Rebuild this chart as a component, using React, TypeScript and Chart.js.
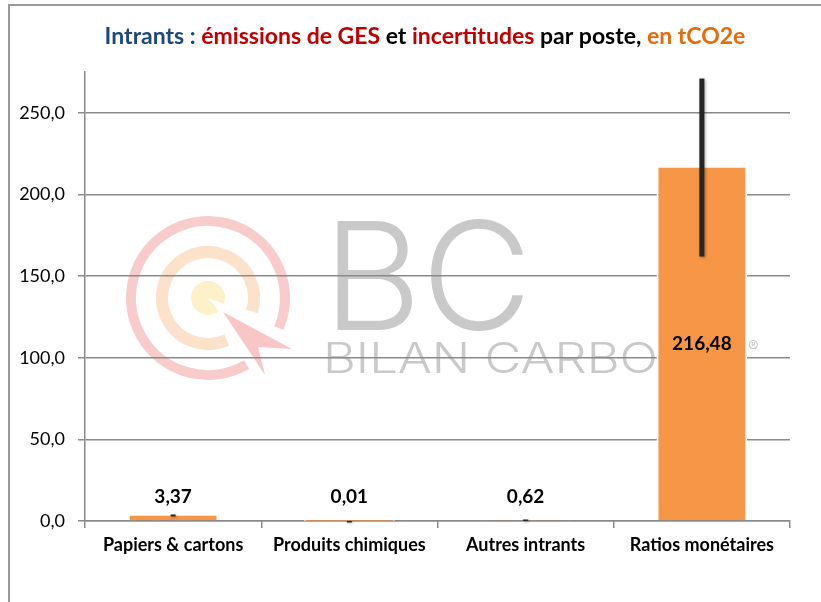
import React, { useEffect, useRef } from 'react';
import { Chart, registerables } from 'chart.js';

Chart.register(...registerables);

const categories = ['Papiers & cartons', 'Produits chimiques', 'Autres intrants', 'Ratios monétaires'];
const emissions = [3.37, 0.01, 0.62, 216.48];
const uncertainties = [0.6, 0.005, 0.3, 54.5];
const yTicks = [0, 50, 100, 150, 200, 250];
const yMax = 275;
const titleParts = [
  { text: 'Intrants : ', color: '#1F497D' },
  { text: 'émissions de GES', color: '#C00000' },
  { text: ' et ', color: '#000000' },
  { text: 'incertitudes', color: '#C00000' },
  { text: ' par poste, ', color: '#000000' },
  { text: 'en tCO2e', color: '#E46C0A' },
];

const FONT = 'Lato';
const fmt = (v: number, d: number) => v.toFixed(d).replace('.', ',');

const backgroundPlugin = {
  id: 'bg',
  beforeDraw(chart: any) {
    const ctx = chart.ctx as CanvasRenderingContext2D;
    ctx.save();
    ctx.fillStyle = '#ffffff';
    ctx.fillRect(0, 0, chart.width, chart.height);

    // frame
    ctx.strokeStyle = '#9a9a9a';
    ctx.lineWidth = 2;
    ctx.beginPath();
    ctx.moveTo(9, chart.height);
    ctx.lineTo(9, 5);
    ctx.lineTo(chart.width, 5);
    ctx.stroke();

    // watermark logo
    const cx = 208, cy = 298;
    const rad = (d: number) => (d * Math.PI) / 180;
    ctx.lineCap = 'butt';
    ctx.strokeStyle = '#f9cccc';
    ctx.lineWidth = 10;
    ctx.beginPath();
    ctx.arc(cx, cy, 77, rad(60), rad(23));
    ctx.stroke();
    ctx.strokeStyle = '#fce2cb';
    ctx.lineWidth = 12;
    ctx.beginPath();
    ctx.arc(cx, cy, 46, rad(66), rad(17));
    ctx.stroke();
    ctx.fillStyle = '#fdf1c9';
    ctx.beginPath();
    ctx.moveTo(cx, cy);
    ctx.arc(cx, cy, 17, rad(50), rad(20));
    ctx.closePath();
    ctx.fill();
    ctx.fillStyle = '#f8c6c6';
    ctx.beginPath();
    ctx.moveTo(223, 312);
    ctx.lineTo(292, 349);
    ctx.lineTo(258, 347);
    ctx.lineTo(265, 375);
    ctx.closePath();
    ctx.fill();

    ctx.fillStyle = '#c9c9c9';
    ctx.textBaseline = 'alphabetic';
    ctx.textAlign = 'left';
    ctx.font = '300 150px Inter';
    const bcW = ctx.measureText('BC').width;
    ctx.save();
    ctx.translate(323, 330);
    ctx.scale(209 / bcW, 1);
    ctx.fillText('BC', 0, 0);
    ctx.restore();

    ctx.font = '300 42px Inter';
    const w11 = ctx.measureText('BILAN CARBO').width;
    ctx.save();
    ctx.translate(323, 373);
    ctx.scale(335 / w11, 1);
    ctx.fillText('BILAN CARBONE', 0, 0);
    ctx.restore();
    ctx.font = '16px Inter';
    ctx.fillText('®', 748, 352);

    // title
    ctx.font = `bold 23px ${FONT}`;
    ctx.textBaseline = 'middle';
    const total = titleParts.reduce((s, p) => s + ctx.measureText(p.text).width, 0);
    let x = 425 - total / 2;
    for (const p of titleParts) {
      ctx.fillStyle = p.color;
      ctx.fillText(p.text, x, 37);
      x += ctx.measureText(p.text).width;
    }
    ctx.restore();
  },
};

const overlayPlugin = {
  id: 'overlay',
  afterDatasetsDraw(chart: any) {
    const ctx = chart.ctx as CanvasRenderingContext2D;
    const meta = chart.getDatasetMeta(0);
    const yScale = chart.scales.y;
    ctx.save();
    // error bars
    meta.data.forEach((bar: any, i: number) => {
      const v = emissions[i];
      const e = uncertainties[i];
      const y1 = yScale.getPixelForValue(v - e);
      const y2 = yScale.getPixelForValue(v + e);
      ctx.save();
      ctx.shadowColor = 'rgba(0,0,0,0.35)';
      ctx.shadowBlur = 3;
      ctx.shadowOffsetX = 1;
      ctx.shadowOffsetY = 1;
      ctx.fillStyle = '#262626';
      const h = Math.max(Math.abs(y1 - y2), 1.5);
      ctx.fillRect(bar.x - 2.5, Math.min(y1, y2), 5, h);
      ctx.restore();
    });
    // data labels
    ctx.font = `bold 19px ${FONT}`;
    ctx.fillStyle = '#000000';
    ctx.textAlign = 'center';
    ctx.textBaseline = 'middle';
    meta.data.forEach((bar: any, i: number) => {
      const base = yScale.getPixelForValue(0);
      const top = bar.y;
      const center = (base + top) / 2;
      const y = base - top > 50 ? center : base - 24;
      ctx.fillText(fmt(emissions[i], 2), bar.x, y);
    });
    ctx.restore();
  },
};

export default function App() {
  const ref = useRef<HTMLCanvasElement | null>(null);
  useEffect(() => {
    if (!ref.current) return;
    const chart = new Chart(ref.current, {
      type: 'bar',
      data: {
        labels: categories,
        datasets: [
          {
            data: emissions,
            backgroundColor: '#F79646',
            borderColor: '#ffffff',
            borderWidth: { top: 0, left: 2, right: 2, bottom: 0 },
            categoryPercentage: 1,
            barPercentage: 0.515,
          },
        ],
      },
      options: {
        animation: false,
        responsive: false,
        devicePixelRatio: 1,
        layout: { padding: { top: 72, left: 10, right: 31, bottom: 0 } },
        plugins: { legend: { display: false }, tooltip: { enabled: false }, title: { display: false } },
        scales: {
          x: {
            afterFit: (s: any) => {
              s.height = 81;
            },
            grid: {
              display: true,
              drawOnChartArea: false,
              drawTicks: true,
              tickLength: 7,
              color: '#8a8a8a',
              lineWidth: 1.5,
              offset: true,
            },
            border: { display: true, color: '#8a8a8a', width: 1.5 },
            ticks: { font: { family: FONT, size: 18, weight: 'bold' }, color: '#000000', padding: 6 },
          },
          y: {
            min: 0,
            max: yMax,
            afterBuildTicks: (s: any) => {
              s.ticks = yTicks.map((v) => ({ value: v }));
            },
            afterFit: (s: any) => {
              s.width = 75;
            },
            ticks: {
              callback: (v: any) => fmt(Number(v), 1),
              font: { family: FONT, size: 18 },
              color: '#000000',
              padding: 13,
            },
            grid: { color: '#8a8a8a', lineWidth: 1.5, tickLength: 7, drawTicks: true },
            border: { display: true, color: '#8a8a8a', width: 1.5 },
          },
        },
      },
      plugins: [backgroundPlugin, overlayPlugin],
    });
    return () => chart.destroy();
  }, []);
  return (
    <div style={{ position: 'fixed', left: 0, top: 0, width: 821, height: 602 }}>
      <canvas ref={ref} width={821} height={602} />
    </div>
  );
}
